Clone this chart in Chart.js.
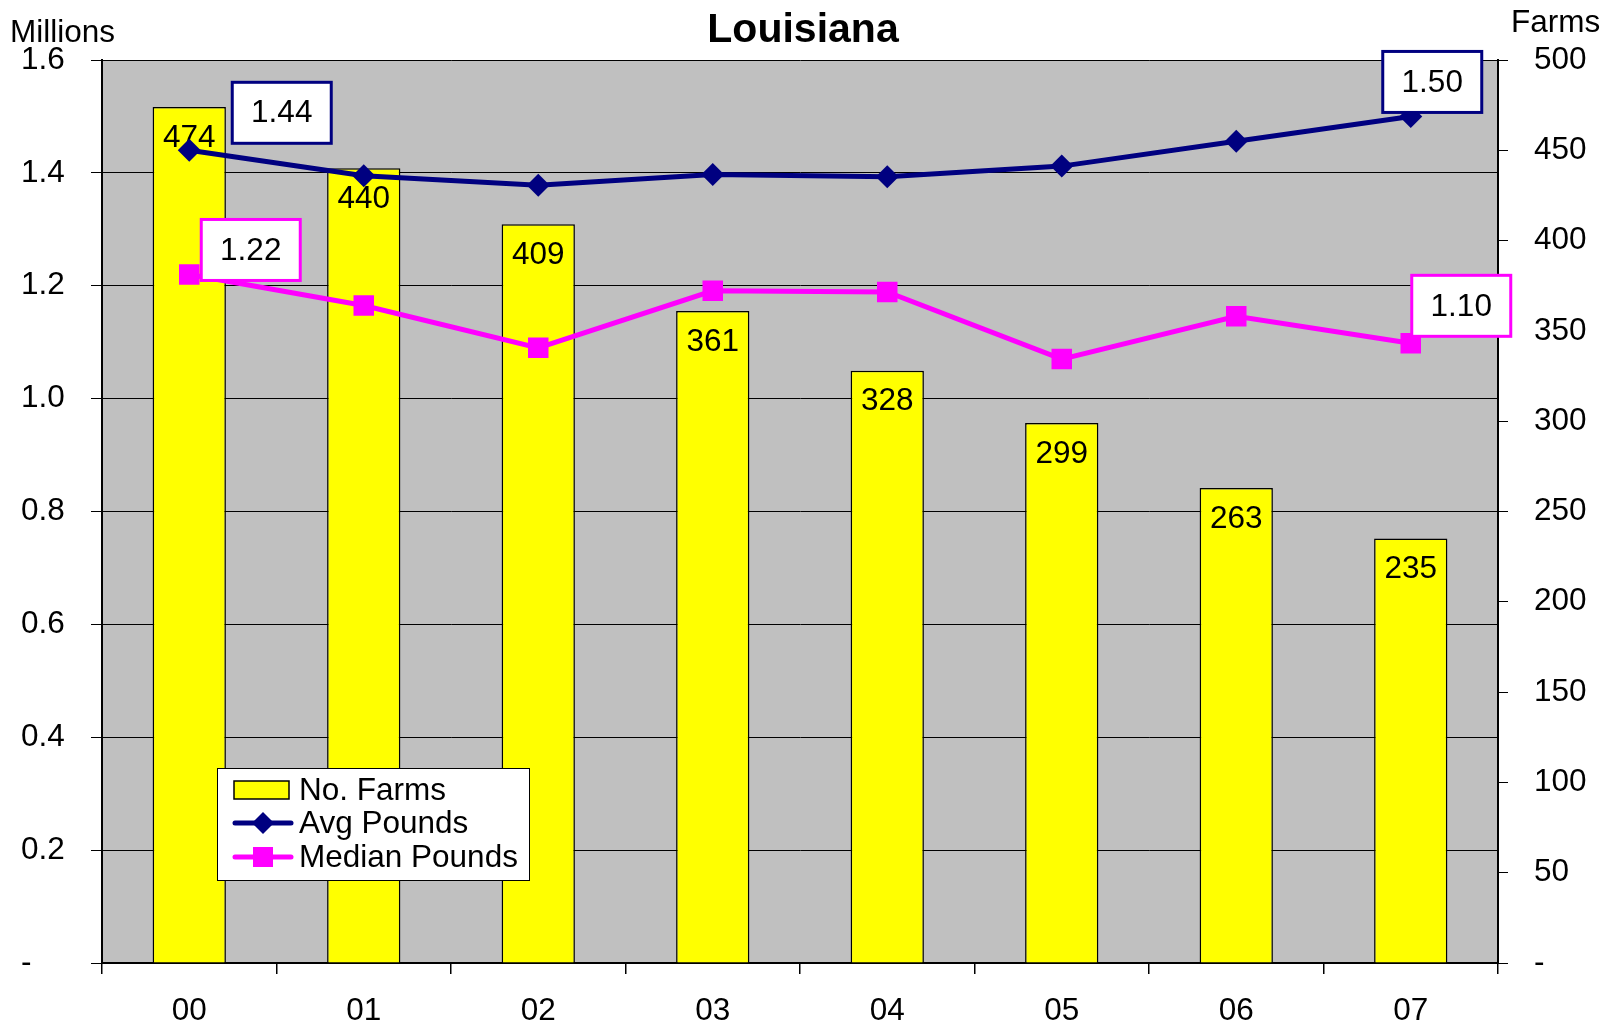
<!DOCTYPE html>
<html lang="en">
<head>
<meta charset="UTF-8">
<title>Louisiana</title>
<script src="https://cdn.jsdelivr.net/npm/chart.js"></script>
<style>
  html, body { margin: 0; padding: 0; background: #fff; }
  #wrap { width: 1602px; height: 1026px; position: relative; }
</style>
</head>
<body>
<div id="wrap"><canvas id="chart"></canvas></div>
<script>
// data
const years = ['00', '01', '02', '03', '04', '05', '06', '07'];
const noFarms = [474, 440, 409, 361, 328, 299, 263, 235];
const avgPounds = [1.44, 1.395, 1.378, 1.397, 1.393, 1.412, 1.456, 1.50];
const medianPounds = [1.22, 1.165, 1.09, 1.191, 1.189, 1.07, 1.146, 1.098];

const FONT = "'Liberation Sans', Arial, sans-serif";
const FS = 31.5;
const NAVY = '#000080';
const MAGENTA = '#FF00FF';
const YELLOW = '#FFFF00';

// boxed value labels (dataset index, point index, offset of box from point)
const callouts = [
  { ds: 1, i: 0, dx: 43, dy: -68 },
  { ds: 1, i: 7, dx: -28, dy: -65 },
  { ds: 2, i: 0, dx: 12, dy: -55 },
  { ds: 2, i: 7, dx: 1, dy: -68 }
];

const decor = {
  id: 'decor',
  beforeDraw(chart) {
    const { ctx, chartArea: a } = chart;
    ctx.save();
    ctx.fillStyle = '#C0C0C0';
    ctx.fillRect(a.left, a.top, a.right - a.left, a.bottom - a.top);
    ctx.restore();
  },
  afterDatasetDraw(chart, args) {
    if (args.index !== 0) return;
    const ctx = chart.ctx;
    ctx.save();
    ctx.font = FS + 'px ' + FONT;
    ctx.fillStyle = '#000';
    ctx.textAlign = 'center';
    ctx.textBaseline = 'middle';
    args.meta.data.forEach((bar, i) => {
      ctx.fillText(String(noFarms[i]), bar.x, bar.y + 31);
    });
    ctx.restore();
  },
  afterDraw(chart) {
    const ctx = chart.ctx;
    ctx.save();

    // titles
    ctx.fillStyle = '#000';
    ctx.textBaseline = 'middle';
    ctx.font = 'bold 41px ' + FONT;
    ctx.textAlign = 'center';
    ctx.fillText('Louisiana', 803, 31);
    ctx.font = FS + 'px ' + FONT;
    ctx.textAlign = 'left';
    ctx.fillText('Millions', 10, 33);
    ctx.fillText('Farms', 1511, 23);

    // callout boxes
    callouts.forEach(c => {
      const ds = chart.data.datasets[c.ds];
      const pt = chart.getDatasetMeta(c.ds).data[c.i];
      const x = pt.x + c.dx, y = pt.y + c.dy, w = 99, h = 61;
      ctx.fillStyle = '#fff';
      ctx.fillRect(x, y, w, h);
      ctx.strokeStyle = ds.borderColor;
      ctx.lineWidth = 3;
      ctx.strokeRect(x, y, w, h);
      ctx.fillStyle = '#000';
      ctx.textAlign = 'center';
      ctx.font = FS + 'px ' + FONT;
      ctx.fillText(ds.data[c.i].toFixed(2), x + w / 2, y + h / 2 + 1);
    });

    // legend
    const lx = 217, ly = 768, lw = 312, lh = 112;
    ctx.fillStyle = '#fff';
    ctx.fillRect(lx, ly, lw, lh);
    ctx.strokeStyle = '#000';
    ctx.lineWidth = 1;
    ctx.strokeRect(lx + 0.5, ly + 0.5, lw, lh);
    const rows = [790, 823, 857];
    chart.data.datasets.forEach((ds, k) => {
      const cy = rows[k];
      if (ds.type === 'bar') {
        ctx.fillStyle = ds.backgroundColor;
        ctx.fillRect(234, cy - 9, 55, 18);
        ctx.strokeStyle = '#000';
        ctx.lineWidth = 1.5;
        ctx.strokeRect(234, cy - 9, 55, 18);
      } else {
        ctx.strokeStyle = ds.borderColor;
        ctx.lineWidth = ds.borderWidth;
        ctx.lineCap = 'round';
        ctx.beginPath();
        ctx.moveTo(235, cy);
        ctx.lineTo(291, cy);
        ctx.stroke();
        ctx.fillStyle = ds.borderColor;
        ctx.beginPath();
        if (ds.pointStyle === 'rectRot') {
          ctx.moveTo(263 - 11, cy);
          ctx.lineTo(263, cy - 11);
          ctx.lineTo(263 + 11, cy);
          ctx.lineTo(263, cy + 11);
          ctx.closePath();
        } else {
          ctx.rect(263 - 10, cy - 10, 20, 20);
        }
        ctx.fill();
      }
      ctx.fillStyle = '#000';
      ctx.textAlign = 'left';
      ctx.font = FS + 'px ' + FONT;
      ctx.fillText(ds.label, 299, cy + 1);
    });
    ctx.restore();
  }
};

new Chart(document.getElementById('chart'), {
  data: {
    labels: years,
    datasets: [
      {
        type: 'bar',
        label: 'No. Farms',
        data: noFarms,
        yAxisID: 'y2',
        backgroundColor: YELLOW,
        borderColor: '#000',
        borderWidth: 1.5,
        categoryPercentage: 1,
        barPercentage: 0.42,
        order: 3
      },
      {
        type: 'line',
        label: 'Avg Pounds',
        data: avgPounds,
        yAxisID: 'y',
        borderColor: NAVY,
        backgroundColor: NAVY,
        borderWidth: 5,
        pointStyle: 'rectRot',
        pointRadius: 11.5,
        pointBorderWidth: 0,
        tension: 0,
        order: 1
      },
      {
        type: 'line',
        label: 'Median Pounds',
        data: medianPounds,
        yAxisID: 'y',
        borderColor: MAGENTA,
        backgroundColor: MAGENTA,
        borderWidth: 5,
        pointStyle: 'rect',
        pointRadius: 14.5,
        pointBorderWidth: 0,
        tension: 0,
        order: 2
      }
    ]
  },
  options: {
    responsive: true,
    maintainAspectRatio: false,
    animation: false,
    layout: { padding: { top: 60, left: 21, right: 0, bottom: 0 } },
    plugins: {
      legend: { display: false },
      title: { display: false },
      tooltip: { enabled: false }
    },
    scales: {
      x: {
        offset: true,
        grid: { offset: true, drawOnChartArea: false, color: '#000', lineWidth: 1.5, tickLength: 11 },
        border: { color: '#000', width: 2 },
        ticks: { color: '#000', font: { family: FONT, size: FS }, padding: 18, maxRotation: 0 },
        afterFit(s) { s.height = 63; }
      },
      y: {
        position: 'left',
        min: 0, max: 1.6,
        grid: { color: '#000', lineWidth: 1, tickLength: 11 },
        border: { color: '#000', width: 2 },
        ticks: {
          stepSize: 0.2,
          crossAlign: 'far',
          color: '#000',
          font: { family: FONT, size: FS },
          callback: v => (v === 0 ? '-' : v.toFixed(1))
        },
        afterFit(s) { s.width = 81; }
      },
      y2: {
        position: 'right',
        min: 0, max: 500,
        grid: { drawOnChartArea: false, color: '#000', lineWidth: 1, tickLength: 10 },
        border: { color: '#000', width: 2 },
        ticks: {
          stepSize: 50,
          padding: 26,
          color: '#000',
          font: { family: FONT, size: FS },
          callback: v => (v === 0 ? '-' : v)
        },
        afterFit(s) { s.width = 104; }
      }
    }
  },
  plugins: [decor]
});
</script>
</body>
</html>
